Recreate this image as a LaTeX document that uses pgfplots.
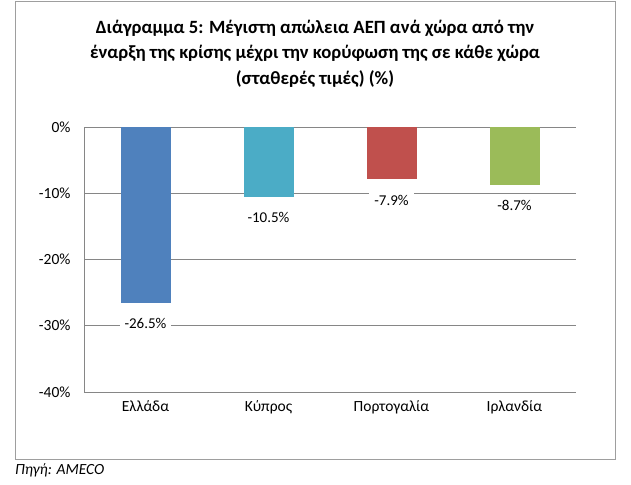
\documentclass[border=0pt]{standalone}
\usepackage{fontspec}
\setmainfont{Carlito}
\usepackage{pgfplots}
\pgfplotsset{compat=1.18}
\definecolor{cblue}{HTML}{4F81BD}
\definecolor{cteal}{HTML}{4BACC6}
\definecolor{cred}{HTML}{C0504D}
\definecolor{cgreen}{HTML}{9BBB59}
\definecolor{gridgray}{HTML}{868686}
\begin{document}
\begin{tikzpicture}[x=1bp,y=1bp]
\path[use as bounding box] (0,0) rectangle (631,485);
\draw[gridgray!80, line width=1bp] (15,25) rectangle (615,483);
\node[font=\bfseries\fontsize{18.7bp}{22bp}\selectfont] at (315,457) {Διάγραμμα 5: Μέγιστη απώλεια ΑΕΠ ανά χώρα από την};
\node[font=\bfseries\fontsize{18.7bp}{22bp}\selectfont] at (315,432) {έναρξη της κρίσης μέχρι την κορύφωση της σε κάθε χώρα};
\node[font=\bfseries\fontsize{18.7bp}{22bp}\selectfont] at (315,406) {(σταθερές τιμές) (\%)};
\node[font=\itshape\fontsize{15.5bp}{18bp}\selectfont, anchor=west, inner sep=0pt] at (15,15) {Πηγή: AMECO};
\begin{axis}[
  at={(84bp,93bp)}, anchor=south west,
  scale only axis, width=492bp, height=265bp,
  xmin=-0.5, xmax=3.5, ymin=-40, ymax=0,
  axis lines*=left,
  axis line style={gridgray, line width=0.8bp},
  ymajorgrids, grid style={gridgray, line width=0.8bp},
  ytick={-40,-30,-20,-10,0},
  yticklabels={-40\%,-30\%,-20\%,-10\%,0\%},
  xtick={0,1,2,3},
  xticklabels={Ελλάδα,Κύπρος,Πορτογαλία,Ιρλανδία},
  major tick length=0pt,
  tick style={draw=none},
  ticklabel style={font=\fontsize{15.5bp}{18bp}\selectfont},
  yticklabel style={xshift=-10bp},
  xticklabel style={yshift=-5bp},
  ybar, bar width=50bp, bar shift=0pt,
  point meta=explicit symbolic,
  nodes near coords,
  nodes near coords align=center,
  every node near coord/.append style={anchor=center, yshift=-21bp, fill=white, font=\fontsize{15bp}{18bp}\selectfont, inner xsep=5bp, inner ysep=2bp},
  clip=false,
]
\addplot[fill=cblue, draw=none] coordinates {(0,-26.5) [-26.5\%]};
\addplot[fill=cteal, draw=none] coordinates {(1,-10.5) [-10.5\%]};
\addplot[fill=cred, draw=none] coordinates {(2,-7.9) [-7.9\%]};
\addplot[fill=cgreen, draw=none] coordinates {(3,-8.7) [-8.7\%]};
\end{axis}
\end{tikzpicture}
\end{document}
